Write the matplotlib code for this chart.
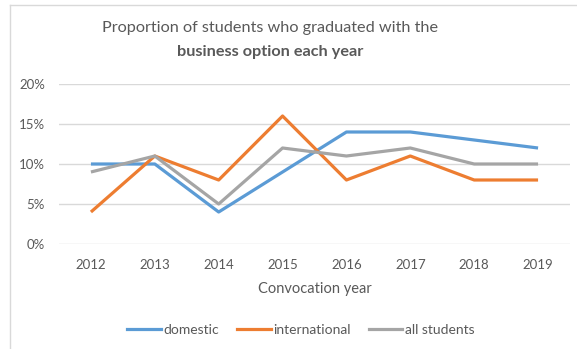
import matplotlib.pyplot as plt
from matplotlib.lines import Line2D

years = ['2012', '2013', '2014', '2015', '2016', '2017', '2018', '2019']
domestic = [10, 10, 4, 9, 14, 14, 13, 12]
international = [4, 11, 8, 16, 8, 11, 8, 8]
all_students = [9, 11, 5, 12, 11, 12, 10, 10]

series_names = ['domestic', 'international', 'all students']
series_colors = ['#5B9BD5', '#ED7D31', '#A5A5A5']

plt.rcParams['font.family'] = ['Lato', 'DejaVu Sans']
text_col = '#595959'

fig = plt.figure(figsize=(5.77, 3.49), dpi=100)
ax = fig.add_axes([59 / 577, 1 - 244 / 349, (570 - 59) / 577, 160 / 349])

x = list(range(len(years)))
for vals, name, col in zip([domestic, international, all_students], series_names, series_colors):
    ax.plot(x, vals, color=col, lw=2.3, label=name, solid_capstyle='butt')

ax.set_xlim(-0.5, len(years) - 0.5)
ax.set_ylim(0, 20)
ax.set_yticks([0, 5, 10, 15, 20])
ax.set_yticklabels([f'{v}%' for v in [0, 5, 10, 15, 20]])
ax.set_xticks(x)
ax.set_xticklabels(years)
ax.yaxis.grid(True, color='#D9D9D9', lw=1)
ax.set_axisbelow(True)
for s in ax.spines.values():
    s.set_visible(False)
ax.tick_params(length=0, colors=text_col, labelsize=9.5)
ax.tick_params(axis='y', pad=10)
ax.tick_params(axis='x', pad=11)
ax.set_xlabel('Convocation year', color=text_col, fontsize=10.5, labelpad=8)

# title is centred over the (cropped) chart area
fig.text(270 / 577, 1 - 28 / 349, 'Proportion of students who graduated with the',
         ha='center', va='center', fontsize=11.7, color=text_col)
fig.text(270 / 577, 1 - 52 / 349, 'business option each year',
         ha='center', va='center', fontsize=11.7, color=text_col, fontweight='bold')

# chart border (only left and top visible in the crop)
fig.add_artist(Line2D([10 / 577, 10 / 577], [0, 1 - 5 / 349], color='#D9D9D9', lw=1))
fig.add_artist(Line2D([10 / 577, 1], [1 - 5 / 349, 1 - 5 / 349], color='#D9D9D9', lw=1))

handles = [Line2D([], [], color=c, lw=2.3) for c in series_colors]
fig.legend(handles, series_names, loc='center', bbox_to_anchor=(301 / 577, 1 - 330 / 349),
           ncol=3, frameon=False, fontsize=10, handlelength=2.4, handletextpad=0.2,
           columnspacing=1.3, labelcolor=text_col, borderpad=0)

fig.savefig('out.png', dpi=100)
